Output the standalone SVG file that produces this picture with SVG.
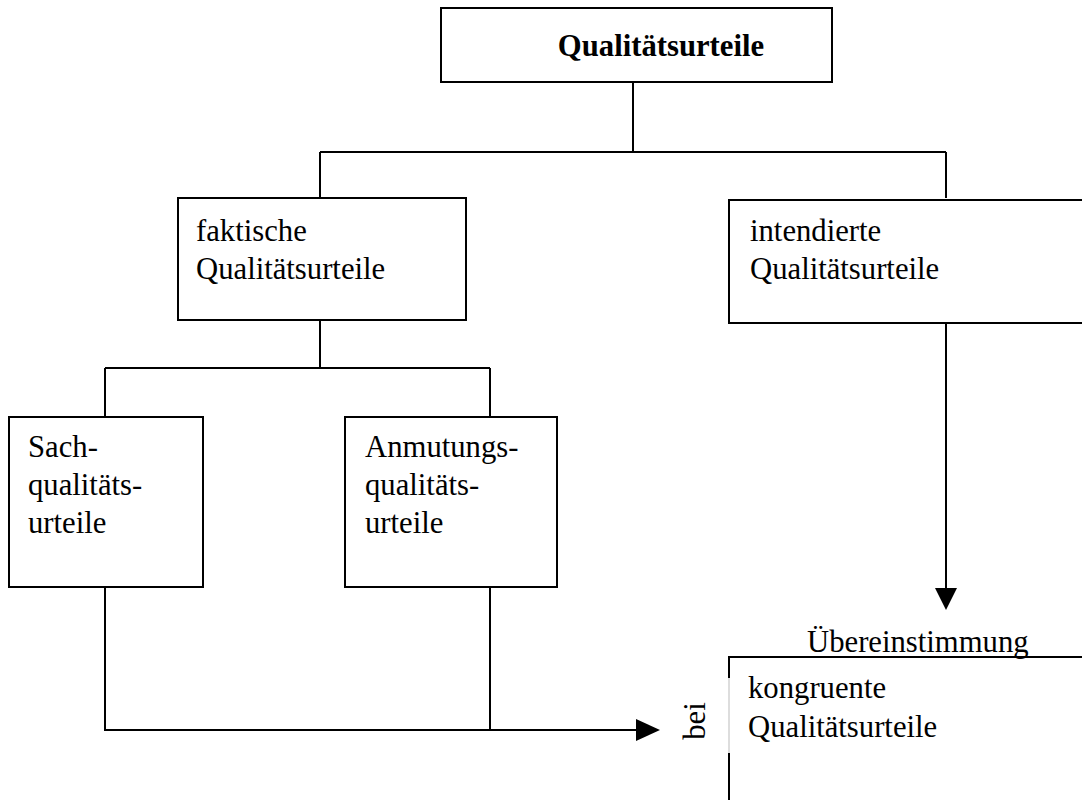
<svg xmlns="http://www.w3.org/2000/svg" width="1082" height="800" viewBox="0 0 1082 800">
<defs>
<style>
.box{fill:#fff;stroke:#000;stroke-width:2}
.ln{fill:none;stroke:#000;stroke-width:2}
.t{font-family:"Liberation Serif","Times New Roman",serif;font-size:30.7px;fill:#000}
.b{font-weight:bold}
.ah{fill:#000;stroke:none}
</style>
</defs>
<rect width="1082" height="800" fill="#fff"/>
<g id="connectors">
<path class="ln" d="M633,82 V152 M320,152 H946 M320,152 V198 M946,152 V198"/>
<path class="ln" d="M320,320 V368 M105,368 H490 M105,368 V417 M490,368 V417"/>
<path class="ln" d="M105,587 V730 H638 M490,587 V730"/>
<polygon class="ah" points="636,719 660,730 636,741"/>
<path class="ln" d="M946,323 V590"/>
<polygon class="ah" points="935,588 946,610 957,588"/>
</g>
<g id="n-qualitaetsurteile">
<rect class="box" x="441" y="8" width="391" height="74"/>
<text class="t b" x="661" y="56" text-anchor="middle">Qualitätsurteile</text>
</g>
<g id="n-faktische">
<rect class="box" x="178" y="198" width="288" height="122"/>
<text class="t" x="196" y="241">faktische</text>
<text class="t" x="196" y="279">Qualitätsurteile</text>
</g>
<g id="n-intendierte">
<rect class="box" x="729" y="200" width="360" height="123"/>
<text class="t" x="750" y="241">intendierte</text>
<text class="t" x="750" y="279">Qualitätsurteile</text>
</g>
<g id="n-sach">
<rect class="box" x="9" y="417" width="194" height="170"/>
<text class="t" x="28" y="457">Sach-</text>
<text class="t" x="28" y="495">qualitäts-</text>
<text class="t" x="28" y="533">urteile</text>
</g>
<g id="n-anmutung">
<rect class="box" x="345" y="417" width="212" height="170"/>
<text class="t" x="365" y="457">Anmutungs-</text>
<text class="t" x="365" y="495">qualitäts-</text>
<text class="t" x="365" y="533">urteile</text>
</g>
<g id="n-kongruente">
<path class="ln" d="M1085,657 H729 V678 M729,753 V805"/>
<path d="M729,678 V753" stroke="#bbb" stroke-width="1" fill="none"/>
<text class="t" x="748" y="698">kongruente</text>
<text class="t" x="748" y="737">Qualitätsurteile</text>
<text class="t" x="807" y="652">Übereinstimmung</text>
<text class="t" transform="translate(705,721) rotate(-90)" text-anchor="middle">bei</text>
</g>
</svg>
